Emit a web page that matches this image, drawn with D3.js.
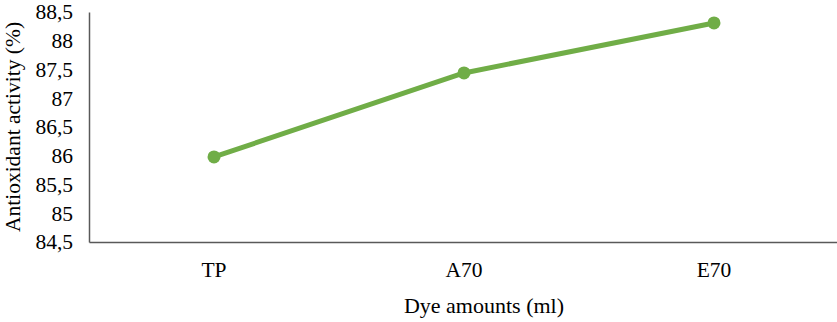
<!DOCTYPE html>
<html>
<head>
<meta charset="utf-8">
<script src="https://cdn.jsdelivr.net/npm/d3@7"></script>
<style>
  html, body { margin: 0; padding: 0; background: #fff; }
</style>
</head>
<body>
<svg id="chart" width="837" height="322"></svg>
<script>
// Antioxidant activity by dye amount
const categories = ["TP", "A70", "E70"];
const activity = [85.98, 87.44, 88.31];
const yTicks = [84.5, 85, 85.5, 86, 86.5, 87, 87.5, 88, 88.5];

const FONT = "'Liberation Serif'";
const FS = 21.5;

const svg = d3.select("#chart");
const margin = { left: 89, right: 0, top: 12, bottom: 80 };
const W = 837, H = 322;

const x = d3.scaleBand()
  .domain(categories)
  .range([margin.left, margin.left + 750])
  .padding(0);

const y = d3.scaleLinear()
  .domain([84.5, 88.5])
  .range([H - margin.bottom, margin.top]);

const fmt = v => String(v).replace(".", ",");
const axisColor = "#595959";

// Y axis
const yAxis = svg.append("g")
  .attr("transform", `translate(${margin.left},0)`)
  .call(d3.axisLeft(y).tickValues(yTicks).tickFormat(fmt).tickSize(0).tickPadding(16));
yAxis.attr("font-family", null).attr("font-size", null);
yAxis.select(".domain").attr("stroke", axisColor).attr("stroke-width", 1.5);
yAxis.selectAll("text")
  .style("font-family", FONT).style("font-size", FS + "px")
  .attr("fill", "#000");

// X axis
const xAxis = svg.append("g")
  .attr("transform", `translate(0,${H - margin.bottom})`)
  .call(d3.axisBottom(x).tickSize(0).tickPadding(20));
xAxis.attr("font-family", null).attr("font-size", null);
xAxis.select(".domain").attr("stroke", axisColor).attr("stroke-width", 1.5);
xAxis.selectAll("text")
  .style("font-family", FONT).style("font-size", FS + "px")
  .attr("fill", "#000");

// Axis titles (x title centred on the whole chart area)
svg.append("text")
  .attr("x", 484)
  .attr("y", 313)
  .attr("text-anchor", "middle")
  .style("font-family", FONT).style("font-size", "22px")
  .text("Dye amounts (ml)");

svg.append("text")
  .attr("transform", `translate(20,${(y.range()[0] + y.range()[1]) / 2}) rotate(-90)`)
  .attr("text-anchor", "middle")
  .style("font-family", FONT).style("font-size", FS + "px")
  .text("Antioxidant activity (%)");

// Line and markers
const pts = categories.map((c, i) => ({ c, v: activity[i] }));
const cx = d => x(d.c) + x.bandwidth() / 2;

svg.append("path")
  .datum(pts)
  .attr("fill", "none")
  .attr("stroke", "#70AD47")
  .attr("stroke-width", 5)
  .attr("stroke-linejoin", "round")
  .attr("stroke-linecap", "round")
  .attr("d", d3.line().x(cx).y(d => y(d.v)));

svg.selectAll("circle.pt")
  .data(pts)
  .join("circle")
  .attr("class", "pt")
  .attr("cx", cx)
  .attr("cy", d => y(d.v))
  .attr("r", 6.5)
  .attr("fill", "#70AD47");
</script>
</body>
</html>
